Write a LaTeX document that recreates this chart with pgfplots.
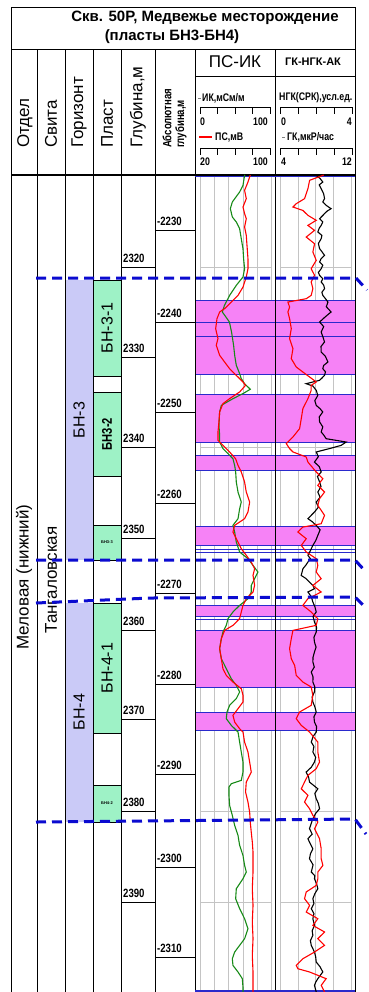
\documentclass[border=0pt]{standalone}
\usepackage{pgfplots}
\pgfplotsset{compat=1.18}
\usepackage{pgfplotstable}
\usepackage{fontspec}
\setmainfont{Liberation Sans}
\newfontfamily\narrow[FakeStretch=0.8]{Liberation Sans}
\newcommand\fs[1]{\fontsize{#1}{#1}\selectfont}
\newcommand\deplab{\narrow\bfseries\fs{12}}

\definecolor{lav}{HTML}{CACAF7}
\definecolor{mint}{HTML}{9EF2C6}
\definecolor{pinkfill}{HTML}{F682F6}
\definecolor{bndblue}{HTML}{2A2ACC}
\definecolor{dashblue}{HTML}{0B0BD0}
\definecolor{ikgreen}{HTML}{168A16}
\definecolor{gridgray}{HTML}{C4C4C4}

% ИК, мСм/м
\pgfplotstableread{
d ik
2309.81 63.0
2309.85 62.4
2310.96 60.1
2311.69 55.4
2312.80 45.1
2313.54 42.3
2314.46 45.1
2315.02 50.7
2315.76 55.4
2316.86 57.7
2317.97 60.1
2319.08 61.0
2320.19 62.4
2321.11 60.1
2322.03 50.7
2323.14 41.3
2324.25 34.0
2324.98 31.0
2325.53 36.0
2326.09 41.0
2327.20 44.0
2328.67 46.9
2329.78 48.4
2330.89 50.7
2331.81 55.4
2332.36 57.7
2332.92 62.4
2333.54 70.4
2334.02 60.1
2334.58 46.0
2335.32 29.6
2336.05 27.2
2337.53 26.3
2338.64 27.2
2339.38 27.2
2340.11 31.9
2340.48 36.6
2341.23 46.0
2341.97 48.4
2342.70 49.8
2343.81 50.7
2344.92 53.1
2346.03 57.7
2346.77 55.4
2347.87 53.1
2348.61 46.0
2349.35 48.4
2350.46 50.7
2351.56 55.4
2352.30 67.1
2353.04 74.2
2353.78 81.2
2354.52 76.5
2355.26 71.8
2355.99 71.8
2356.73 67.1
2357.47 55.4
2358.20 46.0
2358.94 39.0
2359.68 36.6
2360.42 31.9
2361.16 29.6
2362.27 27.2
2363.37 29.6
2364.11 34.3
2364.85 39.0
2365.59 43.7
2366.33 50.7
2367.06 55.4
2367.80 50.7
2368.54 41.3
2369.28 37.6
2370.02 36.6
2370.76 43.7
2371.49 53.1
2372.61 55.4
2373.71 57.7
2374.82 60.1
2375.93 60.1
2376.85 57.7
2377.22 43.7
2377.59 40.4
2378.51 40.4
2379.62 41.3
2380.73 45.1
2381.84 48.4
2382.94 53.1
2384.05 55.4
2385.16 60.1
2386.27 62.4
2387.00 64.8
2387.74 60.1
2388.85 50.7
2389.95 49.8
2391.06 55.4
2392.17 62.4
2393.28 67.1
2394.38 62.4
2395.12 55.4
2395.86 48.4
2396.60 45.1
2397.34 46.0
2398.07 53.1
2398.81 59.2
2399.74 60.1
2400.29 60.1
}\ikdata

% ПС, мВ
\pgfplotstableread{
d ps
2309.81 76.3
2310.59 73.7
2311.51 69.9
2312.43 71.8
2313.36 68.1
2314.09 69.9
2314.65 71.8
2315.57 69.9
2316.49 71.8
2317.60 72.6
2319.08 73.7
2320.19 73.7
2321.11 71.8
2322.22 68.1
2323.14 62.5
2323.88 55.0
2324.61 47.4
2324.98 41.8
2325.72 38.8
2326.83 37.3
2327.93 39.9
2328.67 38.0
2329.78 41.8
2330.52 47.4
2331.26 53.0
2332.00 60.6
2332.73 68.1
2333.10 71.0
2333.84 64.3
2334.58 53.0
2335.13 45.5
2336.05 41.8
2337.16 41.0
2338.27 39.9
2339.19 39.9
2339.75 45.5
2340.48 53.0
2341.23 59.8
2341.97 62.5
2342.70 66.2
2343.81 69.9
2344.92 71.8
2346.03 75.6
2347.13 73.7
2347.87 69.9
2348.61 58.7
2349.35 56.8
2350.09 60.6
2351.20 66.2
2351.93 71.8
2352.67 77.4
2353.41 81.2
2354.15 79.4
2355.26 81.2
2355.99 79.4
2356.73 71.8
2357.47 68.1
2358.20 66.2
2358.94 64.3
2359.68 56.8
2360.24 47.4
2361.16 43.7
2362.27 41.8
2363.37 43.7
2364.48 45.5
2365.22 49.3
2365.96 56.8
2366.70 66.2
2367.43 68.1
2368.17 68.1
2368.91 62.5
2369.65 56.8
2370.39 58.7
2371.13 64.3
2371.50 68.1
2372.61 69.9
2373.71 73.7
2374.82 75.6
2375.93 77.4
2377.04 71.8
2378.14 71.0
2379.25 73.7
2380.36 75.6
2381.47 76.3
2382.57 77.4
2383.68 78.6
2384.79 79.4
2387.00 79.4
2388.85 78.6
2390.69 79.4
2392.54 78.6
2394.38 79.4
2396.23 78.6
2398.07 79.4
2400.29 79.4
}\psdata

% НГК(СРК), усл. ед.
\pgfplotstableread{
d ngk
2309.81 2.10
2309.85 2.03
2310.20 2.25
2310.59 2.40
2310.90 2.20
2311.33 2.31
2311.90 2.45
2312.43 2.50
2312.80 2.40
2313.17 2.59
2313.54 2.87
2313.80 2.65
2314.09 2.50
2314.65 2.22
2315.00 2.40
2315.39 2.31
2315.70 2.20
2316.12 2.12
2316.50 2.35
2316.86 2.31
2317.40 2.15
2317.97 2.22
2318.30 2.35
2318.71 2.50
2319.10 2.30
2319.45 2.22
2319.80 2.40
2320.19 2.31
2320.60 2.15
2320.92 2.22
2321.30 2.40
2321.66 2.31
2322.00 2.45
2322.40 2.50
2322.80 2.35
2323.14 2.40
2323.50 2.55
2323.88 2.69
2324.40 2.60
2324.98 2.87
2325.50 2.55
2326.09 2.22
2326.60 2.45
2327.20 2.31
2327.70 2.40
2328.30 2.50
2328.80 2.30
2329.41 2.31
2329.90 2.55
2330.52 2.69
2330.90 2.45
2331.26 2.40
2331.60 2.55
2332.00 2.50
2332.30 2.35
2332.55 2.22
2332.92 1.46
2333.18 1.84
2333.66 2.03
2334.21 2.12
2334.80 1.95
2335.32 2.03
2335.70 2.25
2336.05 2.40
2336.60 2.20
2337.16 2.22
2337.70 2.40
2338.27 2.31
2338.60 2.45
2339.01 2.59
2339.38 3.72
2339.75 3.44
2340.11 2.78
2340.48 2.03
2341.00 2.15
2341.60 1.93
2342.10 2.20
2342.70 2.31
2343.20 2.10
2343.81 2.22
2344.30 2.30
2344.92 2.12
2345.50 2.25
2346.03 2.03
2346.60 2.15
2347.13 1.93
2347.87 1.56
2348.20 1.80
2348.61 2.03
2349.10 2.25
2349.72 2.12
2350.30 2.00
2350.83 1.84
2351.40 1.70
2351.93 1.56
2352.30 1.70
2352.67 1.56
2353.00 1.45
2353.41 1.28
2354.15 1.18
2354.50 1.45
2354.89 1.65
2355.30 1.85
2355.63 1.93
2355.99 1.56
2356.50 1.75
2357.10 1.84
2357.60 1.95
2358.20 2.03
2358.70 1.85
2359.31 1.93
2359.90 2.05
2360.42 2.03
2361.00 1.90
2361.53 1.93
2362.10 2.02
2362.64 1.93
2363.20 1.85
2363.74 1.84
2364.30 1.92
2364.85 1.75
2365.40 1.85
2365.96 1.84
2366.50 1.95
2367.06 1.93
2367.60 1.80
2368.17 1.84
2368.70 1.95
2369.28 2.03
2369.80 1.90
2370.39 1.93
2370.90 2.05
2371.50 2.03
2372.00 1.85
2372.61 1.75
2373.10 1.90
2373.71 1.84
2374.30 2.00
2374.82 1.93
2375.40 1.75
2375.93 1.46
2376.50 1.60
2377.04 1.65
2377.78 2.12
2378.30 1.95
2378.88 2.03
2379.40 2.15
2379.99 2.22
2380.50 2.00
2381.10 1.84
2381.60 1.75
2382.20 1.65
2382.80 1.80
2383.31 1.56
2383.90 1.70
2384.42 1.84
2385.00 1.70
2385.53 1.65
2386.20 1.85
2387.00 1.75
2387.40 1.95
2387.74 1.93
2388.30 2.05
2388.85 2.12
2389.40 1.95
2389.95 1.84
2390.50 1.90
2391.06 1.75
2391.60 1.90
2392.17 1.84
2392.91 1.93
2393.50 1.80
2394.01 1.84
2394.60 1.70
2395.12 1.75
2395.86 1.93
2396.40 2.00
2396.97 2.03
2397.50 2.25
2398.07 2.40
2398.81 2.12
2399.20 2.00
2399.55 1.93
2400.29 2.03
}\ngkdata

% ГК, мкР/час
\pgfplotstableread{
d gk
2309.81 8.90
2309.85 8.81
2310.40 7.31
2311.33 7.12
2312.43 6.74
2312.99 5.80
2313.36 5.43
2313.73 6.55
2314.28 7.12
2314.83 8.06
2315.39 7.12
2315.94 7.87
2316.68 6.93
2317.42 7.87
2318.34 7.68
2319.26 8.06
2320.19 7.49
2320.92 7.87
2321.66 7.49
2322.40 7.68
2323.14 7.49
2323.51 6.93
2323.88 4.86
2324.43 5.05
2324.98 4.86
2325.72 5.05
2326.83 5.24
2327.93 5.05
2329.04 5.43
2330.15 5.24
2331.07 5.80
2331.63 6.55
2332.18 7.31
2332.73 8.06
2333.10 7.49
2333.66 7.49
2334.58 7.12
2335.69 6.55
2336.79 6.37
2337.90 6.18
2338.82 5.43
2339.56 4.68
2340.11 5.05
2340.48 5.43
2341.04 6.93
2341.60 7.12
2342.70 8.06
2343.44 8.81
2344.18 8.24
2344.92 9.00
2345.66 8.43
2346.40 8.24
2347.50 9.00
2348.43 8.62
2348.80 6.55
2349.35 5.99
2350.09 6.93
2350.83 6.37
2351.56 6.93
2352.30 8.06
2353.04 8.24
2353.78 8.06
2354.52 8.62
2355.26 7.68
2355.99 8.62
2356.73 7.12
2357.47 6.55
2358.20 7.49
2358.94 8.24
2359.68 8.06
2360.24 5.43
2361.16 5.24
2362.27 5.05
2363.37 5.24
2364.11 5.62
2365.22 5.80
2365.96 6.55
2366.51 7.49
2367.43 7.68
2368.54 7.49
2369.28 6.18
2370.02 5.80
2370.76 6.37
2371.50 7.31
2372.61 8.24
2373.71 8.24
2374.82 8.43
2375.56 8.06
2376.30 7.12
2377.04 6.74
2377.78 6.37
2378.51 7.12
2379.25 6.74
2379.99 7.31
2380.73 7.68
2381.47 8.24
2382.20 7.87
2383.31 8.43
2384.42 8.62
2385.53 8.62
2386.27 8.81
2387.00 8.24
2387.74 8.24
2388.48 8.06
2389.21 6.93
2389.95 6.74
2390.69 7.31
2391.43 6.93
2392.17 8.24
2392.91 7.68
2393.64 9.00
2394.38 8.24
2395.12 9.00
2395.86 7.87
2396.60 6.55
2397.34 5.80
2397.71 5.99
2398.07 7.31
2398.81 9.18
2399.55 8.62
2400.29 9.00
}\gkdata

\begin{document}
\begin{tikzpicture}
\begin{axis}[name=main, at={(0,0)}, anchor=north west,
  scale only axis, width=368pt, height=992pt,
  xmin=0, xmax=368, ymin=0, ymax=992, y dir=reverse,
  hide axis, clip=false]

% ---- body fills: horizons and layers
\fill[lav] (65,280) rectangle (93,560);
\fill[lav] (65,603) rectangle (93,822);
\fill[mint] (93,280) rectangle (121,376);
\fill[mint] (93,392) rectangle (121,476);
\fill[mint] (93,525) rectangle (121,560);
\fill[mint] (93,603) rectangle (121,733);
\fill[mint] (93,785) rectangle (121,822);
\draw[line width=0.8pt] (93,280) rectangle (121,376);
\draw[line width=0.8pt] (93,376) rectangle (121,392);
\draw[line width=0.8pt] (93,392) rectangle (121,476);
\draw[line width=0.8pt] (93,525) rectangle (121,560);
\draw[line width=0.8pt] (93,603) rectangle (121,733);
\draw[line width=0.8pt] (93,785) rectangle (121,822);

% ---- log track grid
\foreach \gx in {200.3,214.5,228.7,242.9,257.1,271.3,280.3,298,315.7,333.4,351.1} {
  \edef\tmp{\noexpand\draw[gridgray, line width=0.8pt] (\gx,176) -- (\gx,991);}\tmp
}
\foreach \gy in {267,357,447,538,630,719,811,902} {
  \edef\tmp{\noexpand\draw[gridgray, line width=0.8pt] (200.3,\gy) -- (271.3,\gy);
    \noexpand\draw[gridgray, line width=0.8pt] (280.3,\gy) -- (351.1,\gy);}\tmp
}

% ---- collector intervals
\foreach \ya/\yb in {300/374.7, 394.7/442.5, 455.3/470.3, 526/545.3, 605.3/616, 630.3/687, 712/730.3} {
  \edef\tmp{\noexpand\fill[pinkfill] (195.5,\ya) rectangle (354.5,\yb);}\tmp
}
\foreach \gy in {300,322,336.3,374.7,394.7,442.5,455.3,470.3,526,545.3,549.3,552.3,605.3,616,619.5,630.3,687,712,730.3} {
  \edef\tmp{\noexpand\draw[bndblue, line width=0.9pt] (195,\gy) -- (355,\gy);}\tmp
}

% ---- frame and column rules
\draw[line width=1pt] (11,7) rectangle (355,992);
\draw[line width=1pt] (11,49) -- (355,49);
\foreach \cx in {37,65,93,121,155,195,275} {
  \edef\tmp{\noexpand\draw[line width=1pt] (\cx,49) -- (\cx,992);}\tmp
}
\draw[line width=1pt] (195,76) -- (355,76);
\draw[line width=2pt] (11,175) -- (355,175);
\draw[bndblue, line width=1pt] (195,176.5) -- (355,176.5);
\draw[bndblue, line width=1.2pt] (195,991) -- (355,991);

% ---- depth scales
\foreach \dy/\dl in {267/2320,357/2330,447/2340,538/2350,630/2360,719/2370,811/2380,902/2390} {
  \pgfmathsetmacro\ly{\dy-8.5}
  \edef\tmp{\noexpand\draw[line width=1pt] (121,\dy) -- (155,\dy);
    \noexpand\node[anchor=west, inner sep=0pt, font=\noexpand\deplab] at (123,\ly) {\dl};}\tmp
}
\foreach \dy/\dl in {230/-2230,322/-2240,412/-2250,503/-2260,593/-2270,684/-2280,774/-2290,867/-2300,957/-2310} {
  \pgfmathsetmacro\ly{\dy-8.5}
  \edef\tmp{\noexpand\draw[line width=1pt] (155,\dy) -- (195,\dy);
    \noexpand\node[anchor=west, inner sep=0pt, font=\noexpand\deplab] at (157,\ly) {\dl};}\tmp
}

% ---- title
\node[font=\bfseries\fs{15}, inner sep=0pt] at (205,18) {Скв. 50Р, Медвежье месторождение};
\node[font=\bfseries\fs{15}, inner sep=0pt] at (172,37) {(пласты БН3-БН4)};

% ---- column headers
\node[rotate=90, anchor=west, inner sep=0pt, font=\fs{17}] at (25,148) {Отдел};
\node[rotate=90, anchor=west, inner sep=0pt, font=\fs{17}] at (51,148) {Свита};
\node[rotate=90, anchor=west, inner sep=0pt, font=\fs{17}] at (79,148) {Горизонт};
\node[rotate=90, anchor=west, inner sep=0pt, font=\fs{17}] at (107,148) {Пласт};
\node[rotate=90, anchor=west, inner sep=0pt, font=\fs{17}] at (138,148) {Глубина,м};
\node[rotate=90, anchor=west, inner sep=0pt, font=\narrow\bfseries\fs{12}] at (167,148) {Абсолютная};
\node[rotate=90, anchor=west, inner sep=0pt, font=\narrow\bfseries\fs{12}] at (181,148) {глубина,м};

\node[font=\fs{17}, inner sep=0pt] at (235,62) {ПС-ИК};
\node[font=\bfseries\fs{11}, inner sep=0pt] at (313,62) {ГК-НГК-АК};

% ---- scale legends, track 1
\draw[gray, line width=1pt] (198,98) -- (201,98);
\node[anchor=west, inner sep=0pt, font=\narrow\bfseries\fs{11}] at (202,98) {ИК,мСм/м};
\draw[line width=0.8pt] (200,107) -- (270,107);
\draw[line width=0.8pt] (200,107) -- (200,114) (217.5,107) -- (217.5,114) (235,107) -- (235,114) (252.5,107) -- (252.5,114) (270,107) -- (270,114);
\node[anchor=west, inner sep=0pt, font=\narrow\bfseries\fs{11}] at (200,122) {0};
\node[anchor=east, inner sep=0pt, font=\narrow\bfseries\fs{11}] at (268,122) {100};
\draw[red, line width=1.6pt] (199,137) -- (212,137);
\node[anchor=west, inner sep=0pt, font=\narrow\bfseries\fs{11}] at (215,137) {ПС,мВ};
\draw[line width=0.8pt] (200,148) -- (270,148);
\draw[line width=0.8pt] (200,148) -- (200,155) (217.5,148) -- (217.5,155) (235,148) -- (235,155) (252.5,148) -- (252.5,155) (270,148) -- (270,155);
\node[anchor=west, inner sep=0pt, font=\narrow\bfseries\fs{11}] at (200,162) {20};
\node[anchor=east, inner sep=0pt, font=\narrow\bfseries\fs{11}] at (268,162) {100};

% ---- scale legends, track 2
\node[anchor=west, inner sep=0pt, font=\narrow\bfseries\fs{11}] at (279,98) {НГК(СРК),усл.ед.};
\draw[line width=0.8pt] (280,107) -- (352,107);
\draw[line width=0.8pt] (280,107) -- (280,114) (298,107) -- (298,114) (316,107) -- (316,114) (334,107) -- (334,114) (352,107) -- (352,114);
\node[anchor=west, inner sep=0pt, font=\narrow\bfseries\fs{11}] at (281,122) {0};
\node[anchor=east, inner sep=0pt, font=\narrow\bfseries\fs{11}] at (352,122) {4};
\draw[gray, line width=1pt] (282,137) -- (285,137);
\node[anchor=west, inner sep=0pt, font=\narrow\bfseries\fs{11}] at (287,137) {ГК,мкР/час};
\draw[line width=0.8pt] (280,148) -- (352,148);
\draw[line width=0.8pt] (280,148) -- (280,155) (298,148) -- (298,155) (316,148) -- (316,155) (334,148) -- (334,155) (352,148) -- (352,155);
\node[anchor=west, inner sep=0pt, font=\narrow\bfseries\fs{11}] at (281,162) {4};
\node[anchor=east, inner sep=0pt, font=\narrow\bfseries\fs{11}] at (352,162) {12};

% ---- stratigraphy labels
\node[rotate=90, inner sep=0pt, font=\fs{17}] at (24,577) {Меловая (нижний)};
\node[rotate=90, inner sep=0pt, font=\fs{17}] at (51,580) {Тангаловская};
\node[rotate=90, inner sep=0pt, font=\fs{16}] at (79,420) {БН-3};
\node[rotate=90, inner sep=0pt, font=\fs{16}] at (79,712) {БН-4};
\node[rotate=90, inner sep=0pt, font=\fs{16}] at (107,328) {БН-3-1};
\node[rotate=90, inner sep=0pt, font=\narrow\bfseries\fs{14}] at (107,434) {БН3-2};
\node[rotate=90, inner sep=0pt, font=\fs{16}] at (107,668) {БН-4-1};
\node[inner sep=0pt, font=\bfseries\fs{4}] at (107,542) {БН3-3};
\node[inner sep=0pt, font=\bfseries\fs{4}] at (107,803) {БН4-2};

% ---- log curves (track 1: 0..100 over 200.3..271.3; track 2: 0..4 over 280.3..351.1)
\addplot[ikgreen, line width=1.1pt] table[x expr={200.3+0.71*\thisrow{ik}}, y expr={267+9.03*(\thisrow{d}-2320)}] \ikdata;
\addplot[red, line width=1.1pt] table[x expr={200.3+0.8875*(\thisrow{ps}-20)}, y expr={267+9.03*(\thisrow{d}-2320)}] \psdata;
\addplot[black, line width=1.1pt] table[x expr={280.3+17.7*\thisrow{ngk}}, y expr={267+9.03*(\thisrow{d}-2320)}] \ngkdata;
\addplot[red, line width=1.1pt] table[x expr={280.3+8.85*(\thisrow{gk}-4)}, y expr={267+9.03*(\thisrow{d}-2320)}] \gkdata;

% ---- horizon boundaries
\draw[dashblue, line width=3pt, dash pattern=on 10pt off 6pt] (36,278) -- (356,278) -- (367,290);
\draw[dashblue, line width=3pt, dash pattern=on 10pt off 6pt] (36,560) -- (355,560) -- (366,572);
\draw[dashblue, line width=3pt, dash pattern=on 10pt off 6pt] (36,603) -- (150,598) -- (355,597) -- (366,608);
\draw[dashblue, line width=3pt, dash pattern=on 10pt off 6pt] (36,822) -- (355,819) -- (366,834);
\end{axis}
\pgfresetboundingbox
\path[use as bounding box] (main.north west) rectangle (main.south east);
\end{tikzpicture}
\end{document}
